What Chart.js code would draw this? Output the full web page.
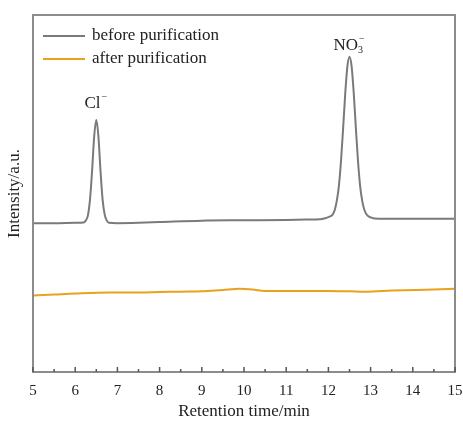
<!DOCTYPE html>
<html><head><meta charset="utf-8">
<script src="https://cdn.jsdelivr.net/npm/chart.js@4"></script>
<style>html,body{margin:0;padding:0;background:#fff}#c{display:block}</style>
</head><body>
<canvas id="c" width="463" height="421"></canvas>
<script>
const beforeX = [5, 5.5, 6, 6.2, 6.25, 6.3, 6.35, 6.4, 6.45, 6.5, 6.55, 6.6, 6.65, 6.7, 6.75, 6.8, 7, 7.5, 8, 9, 10, 11, 11.5, 11.8, 11.9, 12, 12.1, 12.15, 12.2, 12.25, 12.3, 12.35, 12.4, 12.45, 12.5, 12.55, 12.6, 12.65, 12.7, 12.75, 12.8, 12.85, 12.9, 13, 13.2, 13.5, 14, 15];
const beforeY = [41.7, 41.7, 41.8, 41.9, 42.4, 43.8, 48.2, 56.3, 66.0, 70.6, 66.0, 56.3, 48.2, 44.0, 42.4, 41.8, 41.7, 41.8, 42.0, 42.4, 42.5, 42.6, 42.7, 42.8, 43.0, 43.4, 44.1, 45.4, 48.0, 52.3, 59.3, 68.5, 78.2, 85.6, 88.3, 85.6, 78.2, 68.5, 59.3, 52.3, 48.0, 45.5, 44.2, 43.3, 42.9, 42.9, 42.9, 42.9];
const afterX = [5, 5.5, 6, 6.8, 7.5, 8, 8.5, 9, 9.5, 9.9, 10.2, 10.5, 11, 12, 12.5, 12.9, 13.5, 14.1, 14.5, 15];
const afterY = [21.4, 21.7, 22.0, 22.3, 22.3, 22.4, 22.5, 22.6, 23.0, 23.3, 23.1, 22.7, 22.7, 22.7, 22.6, 22.5, 22.8, 23.0, 23.1, 23.3];
const xTicks = [5, 6, 7, 8, 9, 10, 11, 12, 13, 14, 15];
const seriesNames = ['before purification', 'after purification'];
const peakLabels = [{x: 6.5, y: 70.6, text: 'Cl', sup: '−'}, {x: 12.5, y: 88.3, text: 'NO', sub: '3', sup: '−'}];
const labelGaps = [12, 7];

const FONT = '"Liberation Serif", "Times New Roman", serif';
const pts = (xs, ys) => xs.map((x, i) => ({x, y: ys[i]}));

const framePlugin = {
  id: 'frame',
  afterDraw(chart) {
    const {ctx, chartArea: a, scales} = chart;
    ctx.save();
    ctx.strokeStyle = '#8c8c8c';
    ctx.lineWidth = 2;
    ctx.strokeRect(a.left, a.top, a.right - a.left, a.bottom - a.top);
    // inward ticks
    ctx.lineWidth = 1.5;
    ctx.strokeStyle = '#555';
    const xs = scales.x;
    for (let v = 5; v <= 15.0001; v += 0.5) {
      const px = xs.getPixelForValue(v);
      const len = Math.abs(v - Math.round(v)) < 1e-6 ? 5 : 3;
      ctx.beginPath();
      ctx.moveTo(px, a.bottom);
      ctx.lineTo(px, a.bottom - len);
      ctx.stroke();
    }
    // legend
    ctx.font = '17px ' + FONT;
    ctx.textAlign = 'left';
    ctx.textBaseline = 'middle';
    chart.data.datasets.forEach((d, i) => {
      const y = a.top + 21 + i * 23;
      ctx.strokeStyle = d.borderColor;
      ctx.lineWidth = 2;
      ctx.beginPath();
      ctx.moveTo(a.left + 10, y);
      ctx.lineTo(a.left + 52, y);
      ctx.stroke();
      ctx.fillStyle = '#222';
      ctx.fillText(d.label, a.left + 59, y);
    });
    // y title
    ctx.save();
    ctx.translate(15, (a.top + a.bottom) / 2);
    ctx.rotate(-Math.PI / 2);
    ctx.textAlign = 'center';
    ctx.font = '17px ' + FONT;
    ctx.fillText('Intensity/a.u.', 0, 0);
    ctx.restore();
    // x title
    ctx.textAlign = 'center';
    ctx.fillText('Retention time/min', (a.left + a.right) / 2, 412);
    // peak labels
    ctx.fillStyle = '#222';
    ctx.textBaseline = 'alphabetic';
    peakLabels.forEach((p, i) => {
      const px = xs.getPixelForValue(p.x);
      const py = scales.y.getPixelForValue(p.y) - labelGaps[i];
      ctx.font = '17px ' + FONT;
      const w = ctx.measureText(p.text).width;
      let subW = 0;
      ctx.font = '10px ' + FONT;
      if (p.sub) subW = ctx.measureText(p.sub).width;
      const supW = ctx.measureText(p.sup).width + 2;
      let x0 = px - (w + Math.max(subW, supW)) / 2;
      ctx.font = '17px ' + FONT;
      ctx.textAlign = 'left';
      ctx.fillText(p.text, x0, py);
      ctx.font = '10px ' + FONT;
      if (p.sub) ctx.fillText(p.sub, x0 + w, py + 3);
      ctx.fillText(p.sup, x0 + w + 1, py - 8);
    });
    ctx.restore();
  }
};

new Chart(document.getElementById('c'), {
  type: 'line',
  data: {
    datasets: [
      {label: seriesNames[0], data: pts(beforeX, beforeY), borderColor: '#7a7a7a', borderWidth: 2, pointRadius: 0, cubicInterpolationMode: 'monotone', fill: false},
      {label: seriesNames[1], data: pts(afterX, afterY), borderColor: '#e8a21c', borderWidth: 2, pointRadius: 0, cubicInterpolationMode: 'monotone', fill: false}
    ]
  },
  options: {
    responsive: false,
    animation: false,
    layout: {autoPadding: false, padding: {left: 0, right: 8, top: 15, bottom: 0}},
    plugins: {
      legend: {display: false},
      tooltip: {enabled: false}
    },
    scales: {
      x: {
        type: 'linear', min: 5, max: 15,
        afterBuildTicks(s) { s.ticks = xTicks.map(v => ({value: v})); },
        ticks: {color: '#222', font: {family: FONT, size: 15}, padding: 10, maxRotation: 0, autoSkip: false},
        grid: {display: false, drawTicks: false},
        border: {display: false},
        afterFit(s) { s.height = 49; s.paddingLeft = 0; s.paddingRight = 0; }
      },
      y: {
        min: 0, max: 100,
        ticks: {display: false},
        grid: {display: false, drawTicks: false},
        border: {display: false},
        afterFit(s) { s.width = 33; s.paddingTop = 0; s.paddingBottom = 0; }
      }
    }
  },
  plugins: [framePlugin]
});
</script>
</body></html>
